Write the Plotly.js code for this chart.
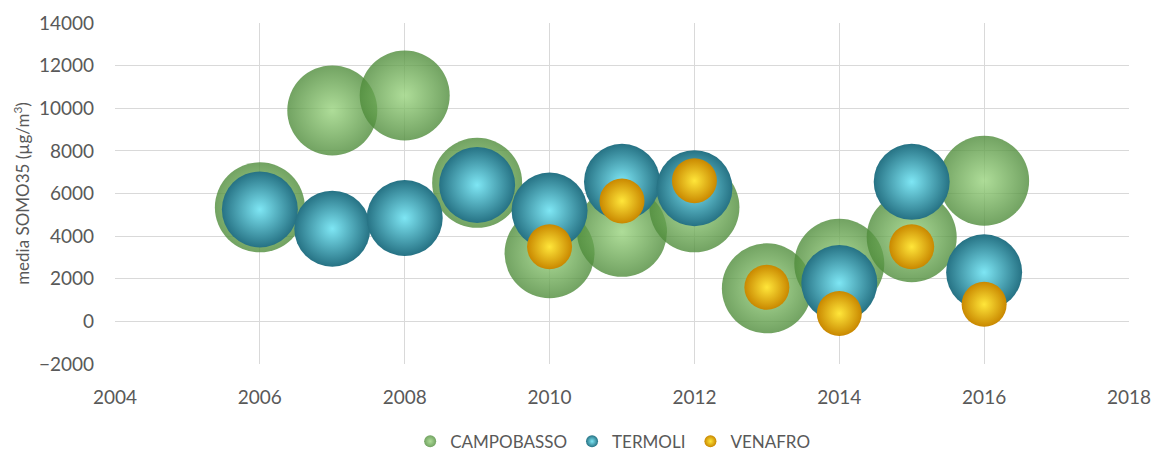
<!DOCTYPE html>
<html>
<head>
<meta charset="utf-8">
<script src="https://cdn.plot.ly/plotly-3.0.1.min.js"></script>
<style>html,body{margin:0;padding:0;background:#fff;}#chart{width:1156px;height:454px;}</style>
</head>
<body>
<div id="chart"></div>
<script>
const campobassoYears = [2006, 2007, 2008, 2009, 2010, 2011, 2012, 2013, 2014, 2015, 2016];
const campobassoValues = [5350, 9900, 10600, 6500, 3200, 4200, 5350, 1550, 2700, 3950, 6600];
const termoliYears = [2006, 2007, 2008, 2009, 2010, 2011, 2012, 2014, 2015, 2016];
const termoliValues = [5250, 4350, 4850, 6400, 5200, 6550, 6250, 1800, 6550, 2300];
const venafroYears = [2010, 2011, 2012, 2013, 2014, 2015, 2016];
const venafroValues = [3500, 5650, 6600, 1600, 370, 3500, 800];
const seriesNames = ['CAMPOBASSO', 'TERMOLI', 'VENAFRO'];

const font = 'Lato, "Open Sans", sans-serif';

const traces = [
  {
    x: campobassoYears, y: campobassoValues, name: seriesNames[0],
    mode: 'markers', type: 'scatter', hoverinfo: 'x+y',
    marker: {size: 90, color: '#4f8c3b', opacity: 0.8,
      gradient: {type: 'radial', color: '#9ad47f'},
      line: {width: 0}}
  },
  {
    x: termoliYears, y: termoliValues, name: seriesNames[1],
    mode: 'markers', type: 'scatter', hoverinfo: 'x+y',
    marker: {size: 76, color: '#267284',
      gradient: {type: 'radial', color: '#7ee6f4'},
      line: {width: 0}}
  },
  {
    x: venafroYears, y: venafroValues, name: seriesNames[2],
    mode: 'markers', type: 'scatter', hoverinfo: 'x+y',
    marker: {size: 45, color: '#c98800',
      gradient: {type: 'radial', color: '#ffe63a'},
      line: {width: 0}}
  }
];

const layout = {
  width: 1156, height: 454,
  margin: {l: 115, r: 27, t: 23, b: 90},
  paper_bgcolor: '#ffffff', plot_bgcolor: '#ffffff',
  font: {family: font, color: '#595959', size: 19},
  showlegend: true,
  legend: {orientation: 'h', x: 0.53, xanchor: 'center', xref: 'container',
    y: 0.027, yanchor: 'middle', yref: 'container',
    font: {size: 17, color: '#595959', family: font}, itemsizing: 'constant',
    traceorder: 'normal', itemwidth: 30},
  xaxis: {
    range: [2004, 2018], dtick: 2, tick0: 2004,
    showgrid: true, gridcolor: '#d9d9d9', gridwidth: 1,
    zeroline: false, showline: false, ticks: '',
    ticklabelstandoff: 20,
    tickfont: {size: 19, color: '#595959'}
  },
  yaxis: {
    range: [-2000, 14000], dtick: 2000, tick0: -2000, tickformat: 'd',
    showgrid: true, gridcolor: '#d9d9d9', gridwidth: 1,
    zeroline: false, showline: false, ticks: '',
    ticklabelstandoff: 20,
    tickfont: {size: 19, color: '#595959'},
    title: {text: 'media SOMO35 (µg/m<sup>3</sup>)', font: {size: 17, color: '#595959'}, standoff: 4}
  }
};

Plotly.newPlot('chart', traces, layout, {displayModeBar: false, staticPlot: true});
</script>
</body>
</html>
